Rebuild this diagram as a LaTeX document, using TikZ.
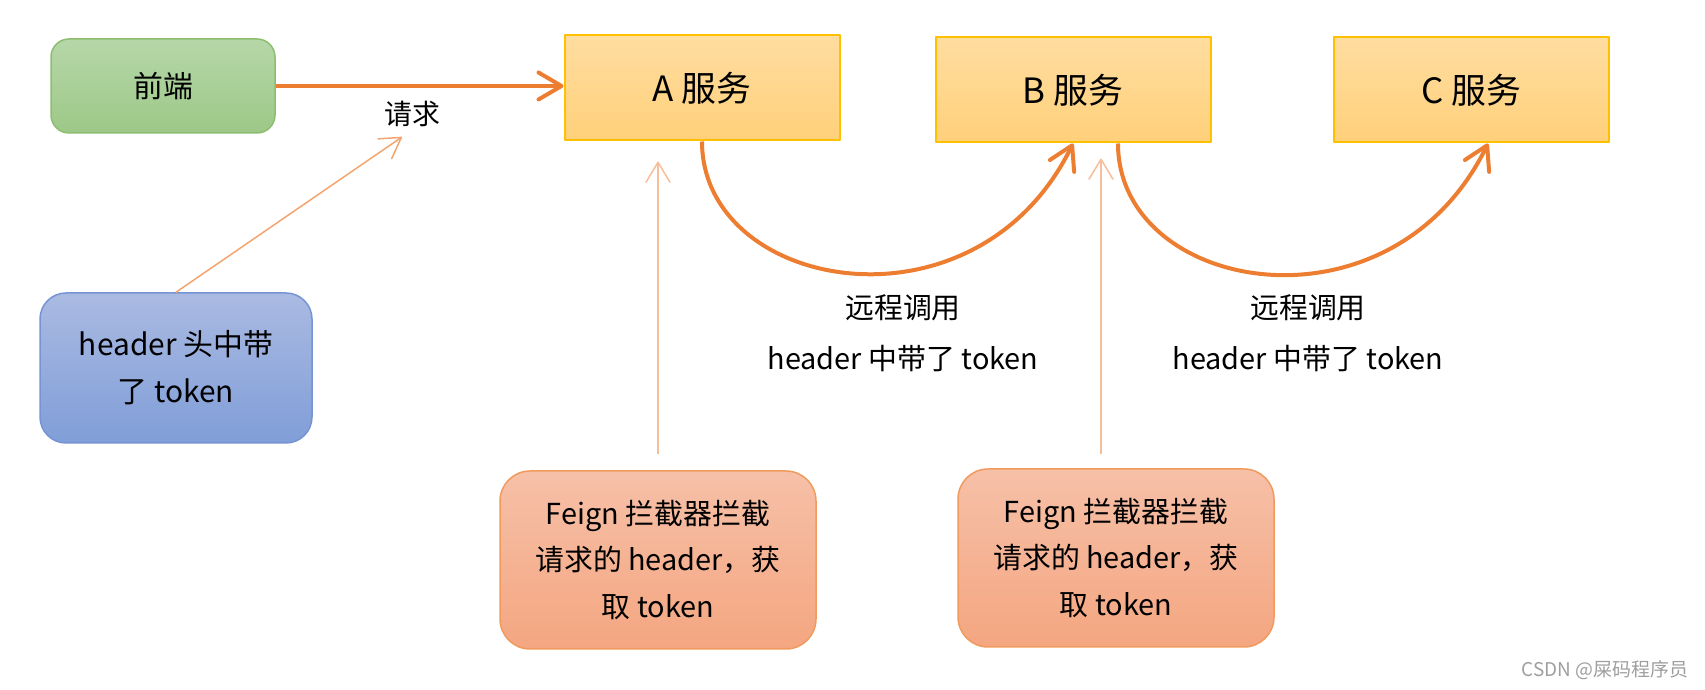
\documentclass[tikz,border=0pt]{standalone}
\usepackage{fontspec}
\setmainfont{Noto Sans CJK SC}
\usetikzlibrary{arrows.meta}
\definecolor{calledge}{RGB}{237,125,49}
\definecolor{tokenedge}{RGB}{244,164,110}
\definecolor{feignedge}{RGB}{247,190,155}
\definecolor{svctop}{RGB}{255,221,160}
\definecolor{svcbot}{RGB}{255,208,122}
\definecolor{svcline}{RGB}{255,192,0}
\definecolor{fronttop}{RGB}{182,215,168}
\definecolor{frontbot}{RGB}{157,200,136}
\definecolor{frontline}{RGB}{140,190,110}
\definecolor{hdrtop}{RGB}{170,186,226}
\definecolor{hdrbot}{RGB}{128,158,216}
\definecolor{hdrline}{RGB}{118,148,212}
\definecolor{feigntop}{RGB}{246,192,168}
\definecolor{feignbot}{RGB}{244,166,128}
\definecolor{feignline}{RGB}{241,154,94}
\begin{document}
\begin{tikzpicture}[>={Straight Barb[length=20bp,width=24bp,line cap=round,line join=round]},line join=bevel,
  svcbox/.style={draw=svcline,line width=2bp,top color=svctop,bottom color=svcbot,minimum width=275bp,minimum height=105bp,inner sep=0pt,font=\fontsize{35}{42}\selectfont},
  frontbox/.style={draw=frontline,line width=1.5bp,rounded corners=18bp,top color=fronttop,bottom color=frontbot,minimum width=224bp,minimum height=94bp,inner sep=0pt,font=\fontsize{30}{36}\selectfont},
  hdrbox/.style={draw=hdrline,line width=1.5bp,rounded corners=26bp,top color=hdrtop,bottom color=hdrbot,minimum width=272bp,minimum height=150bp,inner sep=0pt,align=center,font=\fontsize{30}{47}\selectfont},
  feignbox/.style={draw=feignline,line width=1.5bp,rounded corners=30bp,top color=feigntop,bottom color=feignbot,minimum width=316bp,minimum height=178bp,inner sep=0pt,align=center,font=\fontsize{29}{47}\selectfont},
  lbl/.style={align=center,inner sep=0pt,font=\fontsize{29}{51}\selectfont},
  callarrow/.style={-{Straight Barb[length=23bp,width=27bp,line cap=round,line join=round]},draw=calledge,line width=4bp},
  tokenarrow/.style={->,draw=tokenedge,line width=1.5bp},
  feignarrow/.style={->,draw=feignedge,line width=1.5bp},
]
  \pgfsetlinewidth{1bp}
  \useasboundingbox (0bp,0bp) rectangle (1705bp,690bp);
%%
  % Node: front
  \node[frontbox] (front) at (163bp,604bp) {前端};
  % Node: svcA
  \node[svcbox] (svcA) at (702bp,602bp) {A 服务};
  % Node: svcB
  \node[svcbox] (svcB) at (1073bp,600bp) {B 服务};
  % Node: svcC
  \node[svcbox] (svcC) at (1471bp,600bp) {C 服务};
  % Node: hdr
  \node[hdrbox] (hdr) at (176bp,322bp) {header 头中带\\了 token};
  % Node: feignA
  \node[feignbox] (feignA) at (658bp,130bp) {Feign 拦截器拦截\\请求的 header，获\\取 token};
  % Node: feignB
  \node[feignbox] (feignB) at (1116bp,132bp) {Feign 拦截器拦截\\请求的 header，获\\取 token};
  % Labels
  \node[lbl,font=\fontsize{28}{34}\selectfont] (req) at (412bp,576bp) {请求};
  \node[lbl] (callAB) at (903bp,357bp) {远程调用\\header 中带了 token};
  \node[lbl] (callBC) at (1308bp,357bp) {远程调用\\header 中带了 token};
  \node[inner sep=0pt,text=black!38,font=\fontsize{19}{22}\selectfont] (mark) at (1605bp,20bp) {CSDN @屎码程序员};
  \coordinate (reqtip) at (402bp,553bp);
%
  % Edge: front -> svcA
  \draw [callarrow] (front.east) -- (front.east -| svcA.west);
  % Edge: svcA -> svcB
  \draw [callarrow] (svcA.south) .. controls +(0bp,-150bp) and +(-97bp,-198bp) .. (svcB.south);
  % Edge: svcB -> svcC
  \draw [callarrow] ([xshift=45bp]svcB.south) .. controls +(0bp,-150bp) and +(-97bp,-198bp) .. ([xshift=17bp]svcC.south);
  % Edge: hdr -> req
  \draw [tokenarrow] (hdr.north) -- (reqtip);
  % Edge: feignA -> svcA
  \draw [feignarrow,shorten <=16bp,shorten >=20bp] (feignA.north) -- (feignA.north |- svcA.south);
  % Edge: feignB -> svcB
  \draw [feignarrow,shorten <=14bp,shorten >=15bp] ([xshift=-15bp]feignB.north) -- ([xshift=-15bp]feignB.north |- svcB.south);
%
\end{tikzpicture}
\end{document}
